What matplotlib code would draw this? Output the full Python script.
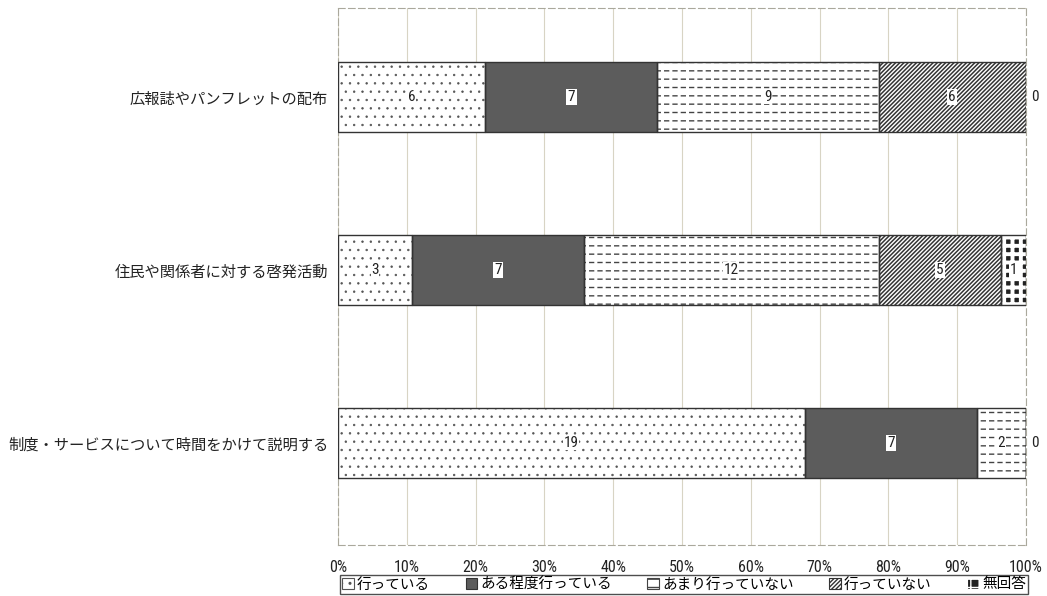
import matplotlib
matplotlib.use("Agg")
import matplotlib.pyplot as plt
from matplotlib.patches import Rectangle
from matplotlib import font_manager
import numpy as np

plt.rcParams['font.family'] = ['Noto Sans CJK JP', 'DejaVu Sans']
plt.rcParams['hatch.linewidth'] = 1.0

categories = ["広報誌やパンフレットの配布",
              "住民や関係者に対する啓発活動",
              "制度・サービスについて時間をかけて説明する"]
series_names = ["行っている", "ある程度行っている", "あまり行っていない", "行っていない", "無回答"]
counts = {
    "行っている":       [6, 3, 19],
    "ある程度行っている": [7, 7, 7],
    "あまり行っていない": [9, 12, 2],
    "行っていない":     [6, 5, 0],
    "無回答":          [0, 1, 0],
}
tick_labels = ["0%", "10%", "20%", "30%", "40%", "50%", "60%", "70%", "80%", "90%", "100%"]

styles = {
    "行っている":       dict(facecolor="white", hatch="..", edgecolor="#555555"),
    "ある程度行っている": dict(facecolor="#5c5c5c", hatch="", edgecolor="#333333"),
    "あまり行っていない": dict(facecolor="white", hatch="--", edgecolor="#444444"),
    "行っていない":     dict(facecolor="white", hatch="////////", edgecolor="#333333"),
    "無回答":          dict(facecolor="#222222", hatch="++", edgecolor="white"),
}
hatch_lw = {"行っている": 0.5, "あまり行っていない": 1.0, "行っていない": 1.1,
            "無回答": 2.8, "ある程度行っている": 1.0}

num_family = ['DejaVu Sans']
for cand in ['Liberation Sans Narrow', 'DejaVu Sans Condensed', 'Roboto Condensed',
             'Open Sans Condensed', 'Liberation Sans']:
    try:
        font_manager.findfont(cand, fallback_to_default=False)
        num_family = [cand, 'DejaVu Sans']
        break
    except Exception:
        continue


def set_hlw(p, lw):
    if hasattr(p, "set_hatch_linewidth"):
        try:
            p.set_hatch_linewidth(lw)
        except Exception:
            pass


fig = plt.figure(figsize=(10.47, 5.96), dpi=100)
ax = fig.add_axes([338/1047, 1-545/596, (1026-338)/1047, (545-8)/596])

data = np.array([counts[s] for s in series_names], dtype=float)
totals = data.sum(axis=0)
y = np.arange(len(categories))
left = np.zeros(len(categories))
for i, s in enumerate(series_names):
    frac = data[i] / totals
    st = styles[s]
    bars = ax.barh(y, frac, left=left, height=0.4, facecolor=st["facecolor"],
                   hatch=st["hatch"], edgecolor=st["edgecolor"], linewidth=0, zorder=3)
    for b in bars:
        set_hlw(b, hatch_lw[s])
    if s == "あまり行っていない":
        brk = ax.barh(y, frac, left=left, height=0.4, facecolor="none",
                      hatch="||", edgecolor="white", linewidth=0, zorder=3.5)
        for b in brk:
            set_hlw(b, 2.2)
    ax.barh(y, frac, left=left, height=0.4, facecolor="none",
            edgecolor="#333333", linewidth=1.0, zorder=4)
    for j in range(len(categories)):
        v = int(data[i][j])
        if v == 0:
            continue
        cx = left[j] + frac[j] / 2
        pad = 1.0 if s in ("ある程度行っている", "行っていない", "無回答") else 0.3
        ax.text(cx, y[j], str(v), ha="center", va="center", fontsize=11,
                family=num_family, color="#222222", zorder=5,
                bbox=dict(facecolor="white", edgecolor="none", pad=pad))
    left += frac

# zero labels at right end
for j in range(len(categories)):
    if data[-1][j] == 0:
        ax.text(1.013, y[j], "0", ha="center", va="center", fontsize=11,
                family=num_family, color="#222222", clip_on=False)

ax.set_xlim(0, 1)
ax.set_ylim(2.59, -0.514)
ax.set_xticks(np.linspace(0, 1, 11))
ax.set_xticklabels(tick_labels, fontsize=11.5, color="#222222", family=num_family)
ax.tick_params(axis="x", length=0, pad=11)
ax.set_yticks(y)
ax.set_yticklabels(categories, fontsize=11, color="#222222")
ax.tick_params(axis="y", length=0, pad=7)
ax.grid(axis="x", color="#d8d4c4", linewidth=0.8, zorder=0)
for sp in ax.spines.values():
    sp.set_color("#aaa89c")
    sp.set_linestyle((0, (6, 3)))
    sp.set_linewidth(0.8)

handles = [Rectangle((0, 0), 1, 1, **styles[s], linewidth=0.8) for s in series_names]
leg = fig.legend(handles, series_names, loc="lower left", ncol=5,
                 bbox_to_anchor=(340/1047, 0.004, (1028-340)/1047, 0.034),
                 mode="expand", fontsize=10.5, frameon=True, fancybox=False,
                 handlelength=0.8, handleheight=0.8, handletextpad=0.2,
                 borderpad=0.15, columnspacing=1.0, borderaxespad=0)
leg.get_frame().set_edgecolor("#222222")
leg.get_frame().set_linewidth(1.0)

fig.savefig("out.png", dpi=100)
